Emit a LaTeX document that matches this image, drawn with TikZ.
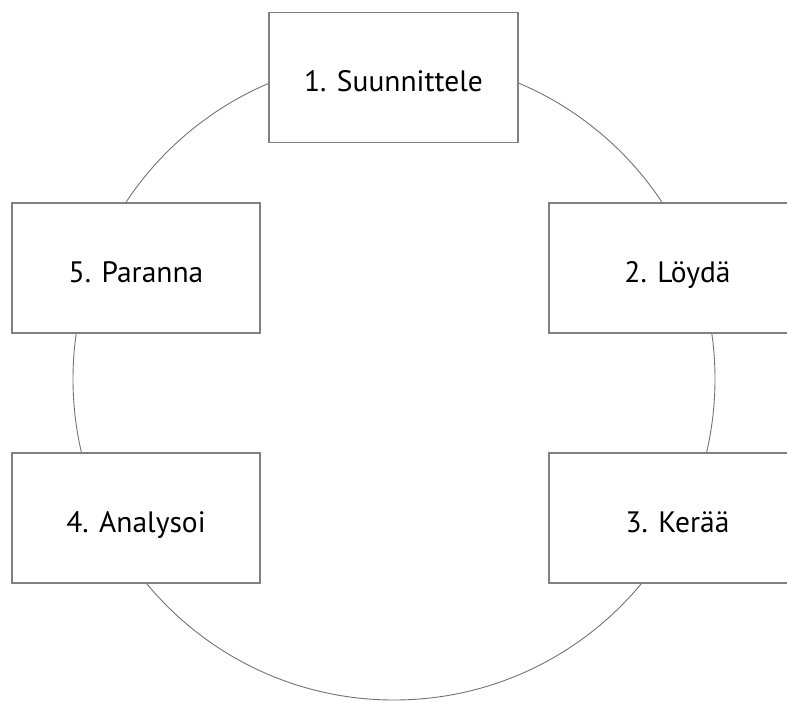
\documentclass[tikz,border=0pt]{standalone}
\usepackage{fontspec}
\setmainfont{PT Sans}
\begin{document}
\begin{tikzpicture}[x=1pt,y=-1pt,
  stepbox/.style={draw=black!50, line width=1.6pt, fill=white, rectangle, inner sep=0pt,
    minimum height=130pt, text height=28pt, text depth=0pt,
    font=\fontsize{29.5}{34}\selectfont, text=black},
  ringline/.style={draw=black!55, line width=0.9pt, circle, inner sep=0pt, minimum size=642pt}]
\useasboundingbox (0,0) rectangle (787,702);
\clip (0,0) rectangle (787,702);
\node[ringline] (ring) at (394,379) {};
\node[stepbox, minimum width=249pt] (s1) at (393.5,77.5) {1. Suunnittele};
\node[stepbox, minimum width=257pt] (s2) at (677.5,268) {2. Löydä};
\node[stepbox, minimum width=257pt] (s3) at (677.5,518) {3. Kerää};
\node[stepbox, minimum width=248pt] (s4) at (136,518) {4. Analysoi};
\node[stepbox, minimum width=248pt] (s5) at (136,268) {5. Paranna};
\end{tikzpicture}
\end{document}
